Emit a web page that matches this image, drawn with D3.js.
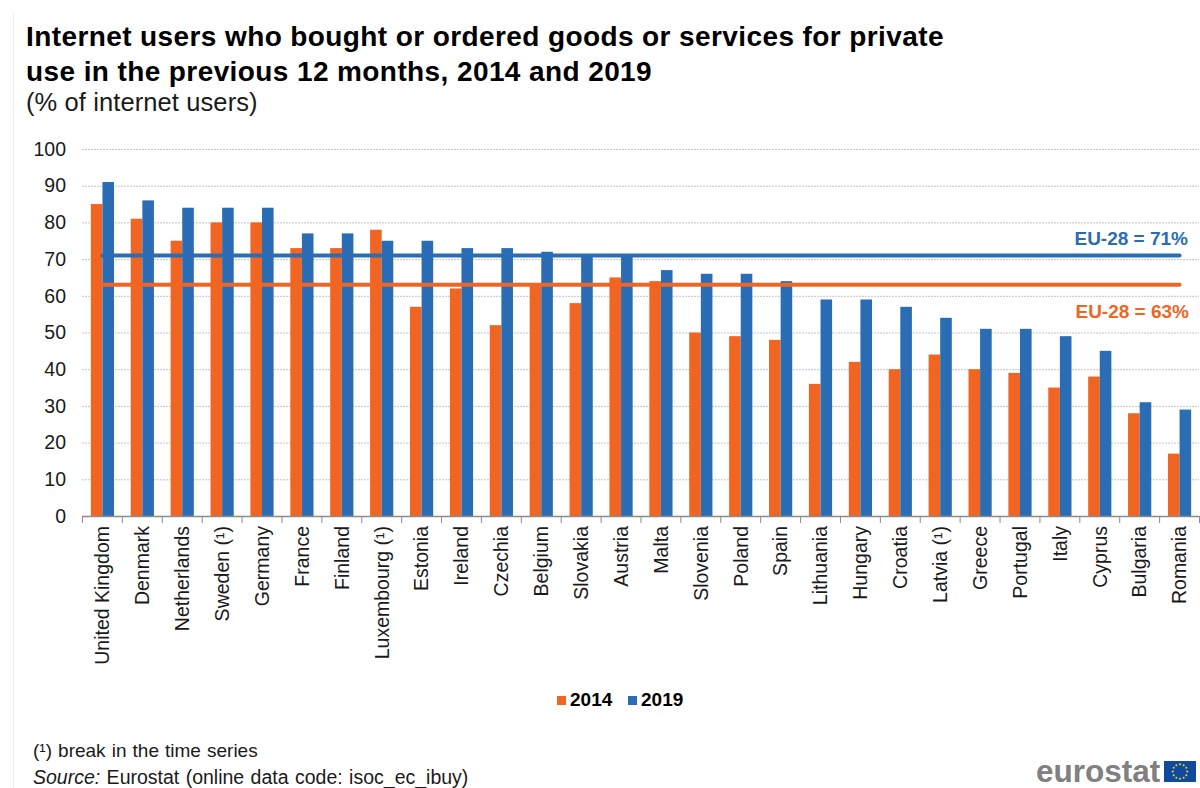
<!DOCTYPE html>
<html>
<head>
<meta charset="utf-8">
<script src="https://cdn.jsdelivr.net/npm/d3@7/dist/d3.min.js"></script>
<style>
html,body{margin:0;padding:0;background:#fff}
svg{display:block}
text{font-family:"Liberation Sans",Arial,sans-serif;fill:#1a1a1a}
</style>
</head>
<body>
<svg id="chart" width="1200" height="788"></svg>
<script>
const countries = ["United Kingdom","Denmark","Netherlands","Sweden (¹)","Germany","France","Finland","Luxembourg (¹)","Estonia","Ireland","Czechia","Belgium","Slovakia","Austria","Malta","Slovenia","Poland","Spain","Lithuania","Hungary","Croatia","Latvia (¹)","Greece","Portugal","Italy","Cyprus","Bulgaria","Romania"];
const values2014 = [85,81,75,80,80,73,73,78,57,62,52,63,58,65,64,50,49,48,36,42,40,44,40,39,35,38,28,17];
const values2019 = [91,86,84,84,84,77,77,75,75,73,73,72,71,71,67,66,66,64,59,59,57,54,51,51,49,45,31,29];
const yTicks = [0,10,20,30,40,50,60,70,80,90,100];
const seriesNames = ["2014","2019"];
const euAverages = [63,71];
const titleLines = ["Internet users who bought or ordered goods or services for private","use in the previous 12 months, 2014 and 2019"];

const ORANGE = "#f16522", BLUE = "#2a6db5";
const seriesColors = [ORANGE, BLUE];

const svg = d3.select("#chart");

// Thin rule along the left edge of the figure frame
svg.append("path").attr("d","M13.5,788V13").attr("fill","none").attr("stroke","#ececec");

const x = d3.scaleBand().domain(countries).range([82.5,1199.5]);
const y = d3.scaleLinear().domain([0,100]).range([516,149]);

// Title block
svg.append("g").selectAll("text").data(titleLines).join("text")
  .attr("x",26).attr("y",(d,i)=>46+i*34.5)
  .attr("font-size",28).attr("font-weight","bold").attr("letter-spacing",0.4).style("fill","#000")
  .text(d=>d);
svg.append("text").attr("x",26).attr("y",111).attr("font-size",25.5).attr("letter-spacing",0.1).text("(% of internet users)");

// Gridlines
svg.append("g").selectAll("line").data(yTicks.filter(d=>d>0)).join("line")
  .attr("x1",82).attr("x2",1199)
  .attr("y1",d=>y(d)+0.5).attr("y2",d=>y(d)+0.5)
  .attr("stroke","#c4c4c4").attr("stroke-width",1).attr("stroke-dasharray","2 1");

// Value axis labels
const yAxis = d3.axisLeft(y).tickValues(yTicks).tickSize(0).tickPadding(0);
const gy = svg.append("g").attr("transform","translate(66,0)").call(yAxis);
gy.select(".domain").remove();
gy.selectAll("text").attr("font-size",19.5).style("font-family",'"Liberation Sans",Arial,sans-serif').style("fill","#1a1a1a");

// Bars for both survey years
const barWidth = 11.6;
const barOffset = d3.scaleOrdinal().domain(seriesNames).range([-barWidth,0]);
[values2014,values2019].forEach((vals,s)=>{
  svg.append("g").selectAll("rect").data(vals).join("rect")
    .attr("x",(d,i)=>x(countries[i])+x.bandwidth()/2+barOffset(seriesNames[s]))
    .attr("y",d=>y(d))
    .attr("width",barWidth)
    .attr("height",d=>y(0)-y(d))
    .attr("fill",seriesColors[s]);
});

// Category axis with rotated labels
const xAxis = d3.axisBottom(x).tickSize(0).tickPadding(0);
const gx = svg.append("g").attr("transform","translate(0,516)").call(xAxis);
gx.select(".domain").attr("stroke","#8c8c8c").attr("stroke-width",1.5).attr("d","M82,0.5H1199.5");
gx.selectAll(".tick line").remove();
gx.selectAll(".tick text")
  .attr("transform","rotate(-90)")
  .attr("x",-10).attr("y",0).attr("dy","0.35em")
  .attr("text-anchor","end")
  .attr("font-size",19.5)
  .style("font-family",'"Liberation Sans",Arial,sans-serif').style("fill","#1a1a1a");
gx.append("g").selectAll("line").data(d3.range(countries.length+1)).join("line")
  .attr("x1",d=>82.5+d*x.step()).attr("x2",d=>82.5+d*x.step())
  .attr("y1",0).attr("y2",7).attr("stroke","#8c8c8c").attr("stroke-width",1);

// EU-28 average lines, running from the first to the last category centre
const lineStart = x(countries[0])+x.bandwidth()/2;
const lineEnd = x(countries[countries.length-1])+x.bandwidth()/2;
euAverages.forEach((v,s)=>{
  svg.append("line").attr("x1",lineStart).attr("x2",lineEnd)
    .attr("y1",y(v)).attr("y2",y(v))
    .attr("stroke",seriesColors[s]).attr("stroke-width",4).attr("stroke-linecap","round");
});
svg.append("text").attr("x",1188).attr("y",245).attr("text-anchor","end").attr("font-size",19).attr("font-weight","bold").style("fill",BLUE).text("EU-28 = "+euAverages[1]+"%");
svg.append("text").attr("x",1189).attr("y",318).attr("text-anchor","end").attr("font-size",19).attr("font-weight","bold").style("fill",ORANGE).text("EU-28 = "+euAverages[0]+"%");

// Legend
const legendX = d3.scaleOrdinal().domain(seriesNames).range([557,628]);
const legend = svg.append("g").selectAll("g").data(seriesNames).join("g")
  .attr("transform",d=>`translate(${legendX(d)},0)`);
legend.append("rect").attr("x",0).attr("y",696).attr("width",9).attr("height",9).attr("fill",(d,i)=>seriesColors[i]);
legend.append("text").attr("x",13).attr("y",706).attr("font-size",19).attr("font-weight","bold").style("fill","#000").text(d=>d);

// Footnotes
svg.append("text").attr("x",33).attr("y",757).attr("font-size",19).attr("word-spacing",0.8).text("(¹) break in the time series");
const src = svg.append("text").attr("x",33).attr("y",784).attr("font-size",19.5).attr("word-spacing",1);
src.append("tspan").attr("font-style","italic").text("Source:");
src.append("tspan").text(" Eurostat (online data code: isoc_ec_ibuy)");

// Eurostat mark with the EU flag
svg.append("text").attr("x",1036).attr("y",782).attr("font-size",31.5).attr("font-weight","bold").style("fill","#808080").text("eurostat");
svg.append("rect").attr("x",1164).attr("y",761).attr("width",32).attr("height",21).attr("fill","#104a9c");
svg.append("g").selectAll("circle").data(d3.range(12)).join("circle")
  .attr("cx",d=>1180+7.3*Math.cos(d*Math.PI/6))
  .attr("cy",d=>771.5+7.3*Math.sin(d*Math.PI/6))
  .attr("r",1).attr("fill","#e8d820");
</script>
</body>
</html>
